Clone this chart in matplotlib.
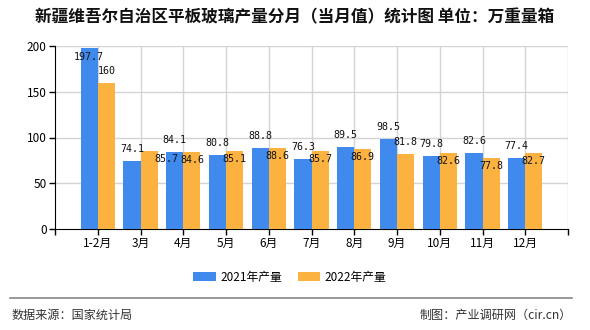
import matplotlib
matplotlib.use("Agg")
import matplotlib.pyplot as plt
import numpy as np

plt.rcParams['font.family'] = ['Noto Sans CJK SC', 'DejaVu Sans']

categories = ['1-2月', '3月', '4月', '5月', '6月', '7月', '8月', '9月', '10月', '11月', '12月']
prod_2021 = [197.7, 74.1, 84.1, 80.8, 88.8, 76.3, 89.5, 98.5, 79.8, 82.6, 77.4]
prod_2022 = [160, 85.7, 84.6, 85.1, 88.6, 85.7, 86.9, 81.8, 82.6, 77.8, 82.7]
yticks = [0, 50, 100, 150, 200]

# label offsets (pixels) as placed in the reference
off_2021 = [(0, -9)] + [(0, 12)] * 10
off_2022 = [(0, 12), (17, -8), (1, -8), (0, -8), (0, -8), (0, -8), (0, -8),
            (0, 12), (0, -8), (0, -8), (0, -8)]

BLUE = '#418AED'
ORANGE = '#FBB241'

fig = plt.figure(figsize=(5.9, 3.3), dpi=100)
ax = fig.add_axes([55/590, 1 - 229/330, (568-55)/590, (229-46)/330])

x = np.arange(len(categories))
w = 0.4
b1 = ax.bar(x - w/2, prod_2021, w, color=BLUE, zorder=3, label='2021年产量')
b2 = ax.bar(x + w/2, prod_2022, w, color=ORANGE, zorder=3, label='2022年产量')

lab_font = dict(family=['DejaVu Sans Mono'], fontsize=7.2, color='#111111')
for xi, v, off in zip(x, prod_2021, off_2021):
    ax.annotate(f'{v:g}', (xi - w/2, v), xytext=off, textcoords='offset pixels',
                ha='center', va='center', zorder=5, **lab_font)
for xi, v, off in zip(x, prod_2022, off_2022):
    ax.annotate(f'{v:g}', (xi + w/2, v), xytext=off, textcoords='offset pixels',
                ha='center', va='center', zorder=5, **lab_font)

ax.set_xlim(-1, 11)
ax.set_ylim(0, 200)
ax.set_yticks(yticks)
ax.set_yticklabels([str(t) for t in yticks], fontsize=8.5)
ax.set_xticks(np.arange(-1, 12))
ax.set_xticklabels([''] + categories + [''], fontsize=8.5)
ax.tick_params(axis='both', length=4, width=1, color='black', pad=2)

for t in yticks[1:]:
    ax.axhline(t, color='#D4D4D4', lw=1, zorder=1)
for xi in list(x) + [11]:
    ax.axvline(xi, color='#D4D4D4', lw=1, zorder=1)

for s in ['top', 'right']:
    ax.spines[s].set_visible(False)
ax.spines['left'].set_color('black')
ax.spines['bottom'].set_color('black')

fig.text(0.5, 1 - 17/330, '新疆维吾尔自治区平板玻璃产量分月（当月值）统计图 单位：万重量箱',
         ha='center', va='center', fontsize=12, fontweight='bold', color='#111111')

leg = fig.legend(handles=[b1, b2], loc='center', bbox_to_anchor=(290/590, 1 - 277/330),
                 ncol=2, frameon=False, fontsize=8.5, handlelength=1.9, handleheight=0.9,
                 columnspacing=1.3, handletextpad=0.4)

fig.add_artist(plt.Line2D([10/590, 572/590], [1 - 298/330, 1 - 298/330],
                          color='#888888', lw=1.2, transform=fig.transFigure))
fig.text(12/590, 1 - 315/330, '数据来源：国家统计局', ha='left', va='center',
         fontsize=8.7, color='#333333')
fig.text(572/590, 1 - 315/330, '制图：产业调研网（cir.cn）', ha='right', va='center',
         fontsize=8.7, color='#333333')

fig.savefig('out.png', dpi=100)
